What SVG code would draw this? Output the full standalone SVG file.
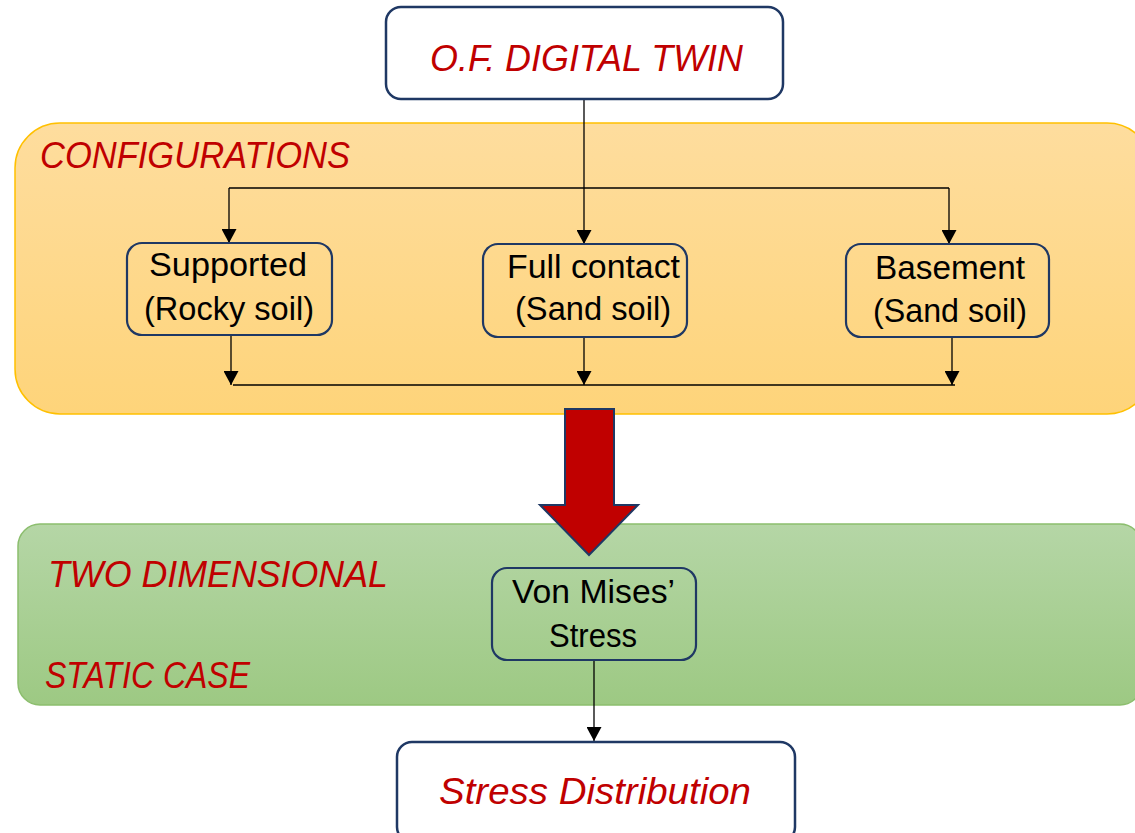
<svg xmlns="http://www.w3.org/2000/svg" width="1135" height="833" viewBox="0 0 1135 833">
  <style>
    .title { font-family: "Liberation Sans", Arial, sans-serif; font-style: italic; fill: #C00000; font-size: 36px; }
    .label { font-family: "Liberation Sans", Arial, sans-serif; fill: #000; font-size: 33px; }
    .box { fill: #fff; stroke: #1F3864; stroke-width: 2.5; }
    .node { fill: none; stroke: #1F3864; stroke-width: 2.2; }
    .wire { fill: none; stroke: #000; stroke-width: 1.3; }
  </style>
  <defs>
    <linearGradient id="orangeFill" x1="0" y1="0" x2="0" y2="1">
      <stop offset="0" stop-color="#FEDD9E"/>
      <stop offset="1" stop-color="#FED47A"/>
    </linearGradient>
    <linearGradient id="greenFill" x1="0" y1="0" x2="0" y2="1">
      <stop offset="0" stop-color="#B5D6A6"/>
      <stop offset="1" stop-color="#9DC983"/>
    </linearGradient>
    <marker id="tip" markerUnits="userSpaceOnUse" markerWidth="16" markerHeight="15" refX="14" refY="7.5" orient="auto">
      <path d="M0,0 L14,7.5 L0,15 Z" fill="#000"/>
    </marker>
  </defs>

  <!-- background panels -->
  <g id="configurations">
    <rect x="15" y="123" width="1137" height="291" rx="45" fill="url(#orangeFill)" stroke="#FFC000" stroke-width="1.5"/>
    <text class="title" x="40" y="168" textLength="310" lengthAdjust="spacingAndGlyphs">CONFIGURATIONS</text>
  </g>
  <g id="two-dimensional">
    <rect x="18" y="524" width="1124" height="181" rx="22" fill="url(#greenFill)" stroke="#8CBE6E" stroke-width="1.5"/>
    <text class="title" x="48" y="587" textLength="340" lengthAdjust="spacingAndGlyphs">TWO DIMENSIONAL</text>
    <text class="title" x="45" y="688" textLength="205" lengthAdjust="spacingAndGlyphs">STATIC CASE</text>
  </g>

  <!-- connectors -->
  <g id="connectors">
    <path class="wire" d="M584,99 V244" marker-end="url(#tip)"/>
    <path class="wire" d="M229,188 H949"/>
    <path class="wire" d="M229,188 V243" marker-end="url(#tip)"/>
    <path class="wire" d="M949,188 V244" marker-end="url(#tip)"/>
    <path class="wire" d="M231,335 V385" marker-end="url(#tip)"/>
    <path class="wire" d="M584,337 V385" marker-end="url(#tip)"/>
    <path class="wire" d="M952,337 V385" marker-end="url(#tip)"/>
    <path class="wire" d="M233,385 H955"/>
    <path class="wire" d="M594,660 V741" marker-end="url(#tip)"/>
    <path d="M565,409 H614 V505 H638 L589,555 L540,505 H565 Z" fill="#C00000" stroke="#1F3864" stroke-width="2"/>
  </g>

  <g id="digital-twin">
    <rect class="box" x="386" y="7" width="397" height="92" rx="15"/>
    <text class="title" x="430" y="71" textLength="313" lengthAdjust="spacingAndGlyphs">O.F. DIGITAL TWIN</text>
  </g>

  <g id="supported">
    <rect class="node" x="127" y="243" width="205" height="92" rx="15"/>
    <text class="label" x="149" y="276" textLength="158" lengthAdjust="spacingAndGlyphs">Supported</text>
    <text class="label" x="144" y="320" textLength="170" lengthAdjust="spacingAndGlyphs">(Rocky soil)</text>
  </g>

  <g id="full-contact">
    <rect class="node" x="483" y="244" width="204" height="93" rx="15"/>
    <text class="label" x="507" y="278" textLength="173" lengthAdjust="spacingAndGlyphs">Full contact</text>
    <text class="label" x="515" y="320" textLength="156" lengthAdjust="spacingAndGlyphs">(Sand soil)</text>
  </g>

  <g id="basement">
    <rect class="node" x="846" y="244" width="203" height="93" rx="15"/>
    <text class="label" x="875" y="279" textLength="150" lengthAdjust="spacingAndGlyphs">Basement</text>
    <text class="label" x="873" y="322" textLength="154" lengthAdjust="spacingAndGlyphs">(Sand soil)</text>
  </g>

  <g id="von-mises">
    <rect class="node" x="492" y="568" width="204" height="92" rx="15"/>
    <text class="label" x="512" y="603" textLength="163" lengthAdjust="spacingAndGlyphs">Von Mises’</text>
    <text class="label" x="549" y="647" textLength="88" lengthAdjust="spacingAndGlyphs">Stress</text>
  </g>

  <g id="stress-distribution">
    <rect class="box" x="397" y="742" width="398" height="100" rx="15"/>
    <text class="title" x="439" y="804" textLength="312" lengthAdjust="spacingAndGlyphs">Stress Distribution</text>
  </g>
</svg>
